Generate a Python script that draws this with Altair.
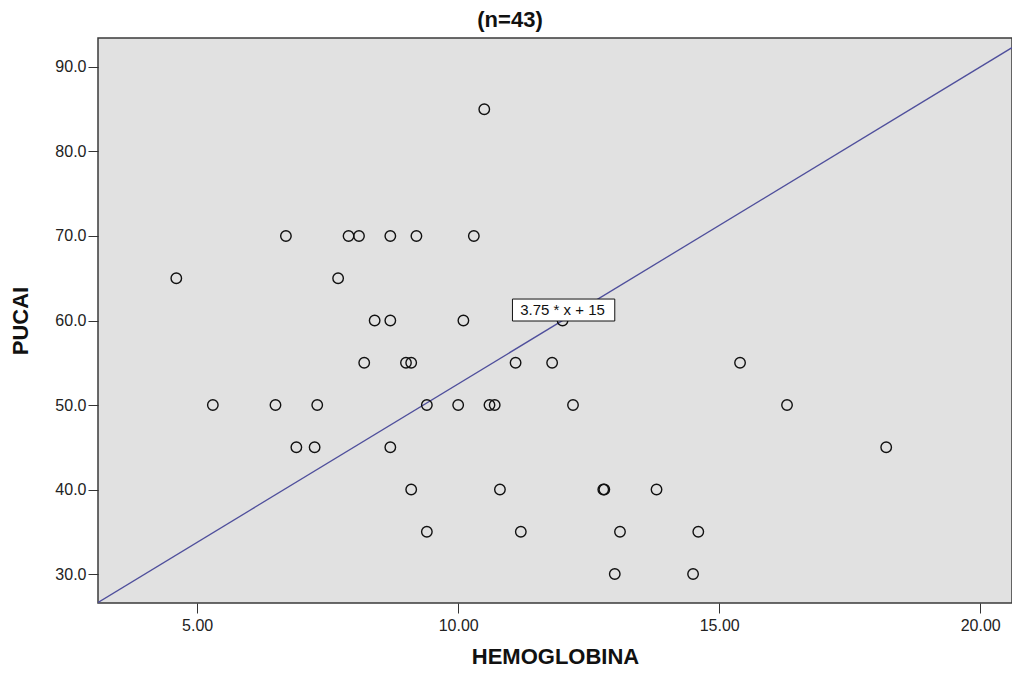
import altair as alt
import pandas as pd

# Scatter data
hemoglobina = [10.5, 6.7, 7.9, 8.1, 8.7, 9.2, 10.3,
               4.6, 7.7,
               8.4, 8.7, 10.1, 12.0,
               8.2, 9.0, 9.1, 11.1, 11.8, 15.4,
               5.3, 6.5, 7.3, 9.4, 10.0, 10.6, 10.7, 12.2, 16.3,
               6.9, 7.25, 8.7, 18.2,
               9.1, 10.8, 12.78, 12.8, 13.8,
               9.4, 11.2, 13.1, 14.6,
               13.0, 14.5]
pucai = [85, 70, 70, 70, 70, 70, 70,
         65, 65,
         60, 60, 60, 60,
         55, 55, 55, 55, 55, 55,
         50, 50, 50, 50, 50, 50, 50, 50, 50,
         45, 45, 45, 45,
         40, 40, 40, 40, 40,
         35, 35, 35, 35,
         30, 30]

# Fit line: 3.75 * x + 15
fit_slope = 3.75
fit_intercept = 15
x_domain = [3.1, 20.61]
y_domain = [26.57, 93.43]
x_ticks = [5, 10, 15, 20]
y_ticks = [30, 40, 50, 60, 70, 80, 90]

# Label box for the fit equation
label_text = ["3.75 * x + 15"]
label_x = [12.0]
label_y = [61.2]
box_x = [11.04]
box_x2 = [13.0]
box_y = [59.94]
box_y2 = [62.54]

pts = pd.DataFrame({"HEMOGLOBINA": hemoglobina, "PUCAI": pucai})
line_df = pd.DataFrame({"HEMOGLOBINA": x_domain,
                        "PUCAI": [fit_slope * v + fit_intercept for v in x_domain]})
box_df = pd.DataFrame({"x": box_x, "x2": box_x2, "y": box_y, "y2": box_y2})
lab_df = pd.DataFrame({"x": label_x, "y": label_y, "t": label_text})

FONT = "Liberation Sans"

xs = alt.Scale(domain=x_domain, nice=False, zero=False)
ys = alt.Scale(domain=y_domain, nice=False, zero=False)

xaxis = alt.Axis(values=x_ticks, format=".2f", grid=False, tickSize=10,
                 labelPadding=4, labelFontSize=16, labelFont=FONT,
                 labelColor="#222222", tickColor="#333333", domain=False,
                 titleFont=FONT, titleFontSize=22, titleFontWeight="bold",
                 titleColor="#111111", titlePadding=13)
yaxis = alt.Axis(values=y_ticks, format=".1f", grid=False, tickSize=10,
                 labelPadding=2, labelFontSize=16, labelFont=FONT,
                 labelColor="#222222", tickColor="#333333", domain=False,
                 titleFont=FONT, titleFontSize=22, titleFontWeight="bold",
                 titleColor="#111111", titlePadding=22)

points = alt.Chart(pts).mark_point(shape="circle", filled=False, color="#111111",
                                   size=110, strokeWidth=1.4, opacity=1).encode(
    x=alt.X("HEMOGLOBINA:Q", scale=xs, axis=xaxis, title="HEMOGLOBINA"),
    y=alt.Y("PUCAI:Q", scale=ys, axis=yaxis, title="PUCAI"),
)

fit = alt.Chart(line_df).mark_line(color="#4f4f9c", strokeWidth=1.3, clip=True).encode(
    x=alt.X("HEMOGLOBINA:Q", scale=xs),
    y=alt.Y("PUCAI:Q", scale=ys),
)

box = alt.Chart(box_df).mark_rect(fill="white", stroke="#111111", strokeWidth=1).encode(
    x=alt.X("x:Q", scale=xs), x2="x2:Q",
    y=alt.Y("y:Q", scale=ys), y2="y2:Q",
)

lab = alt.Chart(lab_df).mark_text(font=FONT, fontSize=15, color="#111111",
                                  align="center", baseline="middle").encode(
    x=alt.X("x:Q", scale=xs), y=alt.Y("y:Q", scale=ys), text="t:N",
)

chart = alt.layer(fit, points, box, lab).properties(
    width=914, height=565,
    title=alt.TitleParams("(n=43)", font=FONT, fontSize=22, fontWeight="bold",
                          color="#111111", anchor="middle", offset=6, dx=-45),
    autosize=alt.AutoSizeParams(type="none"),
    padding={"left": 90, "top": 30, "right": 0, "bottom": 66},
).configure_view(
    fill="#e1e1e1", stroke="#3a3a3a", strokeWidth=1.5
)

chart.save("out.html", embed_options={"renderer": "svg", "actions": False})
